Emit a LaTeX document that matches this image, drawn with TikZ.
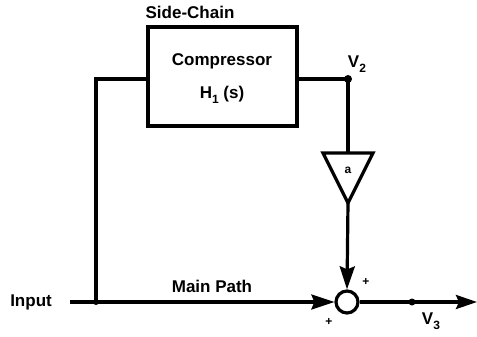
\documentclass[tikz,border=0pt]{standalone}
\usepackage{fontspec}
\setmainfont{Liberation Sans}
\usetikzlibrary{arrows.meta}
\begin{document}
\begin{tikzpicture}[x=1pt,y=-1pt,
  wire/.style={line width=3.2pt},
  lbl/.style={font=\bfseries\fontsize{17}{19}\selectfont, inner sep=0pt},
  sub/.style={font=\bfseries\fontsize{12}{13}\selectfont},
  sml/.style={font=\bfseries\fontsize{12}{13}\selectfont, inner sep=0pt},
  dotnode/.style={circle, fill=black, inner sep=0pt, minimum size=8pt},
  tip/.style={-{Stealth[length=23pt,width=15pt,inset=3pt]}}]
\useasboundingbox (0,0) rectangle (477,337);
% compressor box
\node[draw, line width=3.2pt, minimum width=149pt, minimum height=99pt, inner sep=0pt] (box) at (222.5,76.5) {};
\node[lbl] (comp) at (222,61) {Compressor};
\node[lbl] (h1) at (222,95) {H\raisebox{-0.5ex}{\fontsize{12}{13}\selectfont 1} (s)};
\node[lbl] (side) at (190,12) {Side-Chain};
% points
\coordinate (in) at (70,302);
\node[dotnode, minimum size=6pt] (j1) at (96,302) {};
\coordinate (c1) at (96,79);
\node[dotnode] (v2) at (348,79) {};
\node[circle, draw, line width=3.2pt, minimum size=22pt, inner sep=0pt] (sum) at (347,302) {};
\node[dotnode, minimum size=7pt] (v3dot) at (412,302) {};
\coordinate (out) at (477,302);
% amplifier triangle
\coordinate (amptop) at (348,153);
\coordinate (ampout) at (348,203);
\draw[wire, line join=miter] (323,153) -- (373,153) -- (ampout) -- cycle;
\node[sml] (a) at (348,170) {a};
% wires
\node[lbl, anchor=east] (input) at (52,302) {Input};
\draw[wire] (in) -- (j1.center);
\draw[wire, tip] (j1.center) -- (sum.west);
\draw[wire] (j1.center) -- (c1) -- (box.west |- c1);
\draw[wire] (box.east |- v2) -- (v2.center) -- (amptop);
\draw[wire, tip] (ampout) -- (sum.north);
\draw[wire] (sum.east) -- (v3dot.center);
\draw[wire, -{Stealth[length=21pt,width=14pt,inset=3pt]}] (v3dot.center) -- (out);
% labels
\node[lbl] (mainpath) at (212,286) {Main Path};
\node[lbl] (v2lbl) at (357,64) {V\raisebox{-0.6ex}{\fontsize{12}{13}\selectfont 2}};
\node[lbl] (v3lbl) at (431,321) {V\raisebox{-0.6ex}{\fontsize{12}{13}\selectfont 3}};
\node[sml] (p1) at (366,282) {+};
\node[sml] (p2) at (329,322) {+};
\end{tikzpicture}
\end{document}
